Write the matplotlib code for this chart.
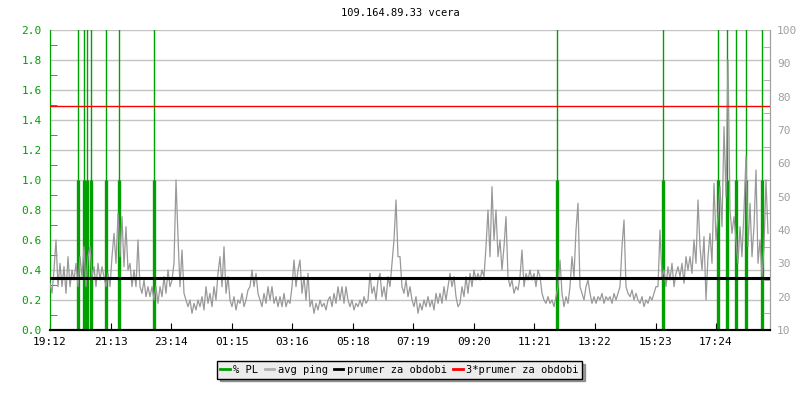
import matplotlib
matplotlib.use("Agg")

import matplotlib.pyplot as plt
from matplotlib.lines import Line2D

# ---------- DATA ----------
title = "109.164.89.33 vcera"
time_labels = ["19:12", "21:13", "23:14", "01:15", "03:16", "05:18",
               "07:19", "09:20", "11:21", "13:22", "15:23", "17:24"]
tick_step = 121.1   # minutes between time labels
sample_step = 4     # minutes between ping samples

# avg ping [ms], one sample every 4 min starting 19:12
avg_ping = [
    24, 21, 28, 37, 23, 30, 23, 29, 21, 32, 23, 28, 25, 30, 23,
    32, 26, 35, 23, 32, 35, 26, 29, 23, 30, 25, 29, 26, 23, 27,
    23, 32, 39, 30, 45, 32, 44, 29, 41, 28, 30, 23, 28, 23, 37,
    23, 21, 25, 20, 23, 20, 23, 19, 23, 18, 23, 20, 26, 21, 28,
    23, 25, 30, 55, 38, 23, 34, 21, 19, 17, 19, 15, 18, 16, 19,
    17, 20, 16, 23, 18, 21, 17, 23, 19, 27, 32, 23, 35, 21, 26,
    19, 17, 20, 16, 19, 18, 21, 17, 19, 22, 23, 28, 23, 27, 21,
    19, 17, 21, 18, 23, 19, 23, 18, 20, 17, 20, 17, 21, 17, 19,
    18, 23, 31, 23, 28, 31, 21, 26, 19, 27, 17, 19, 15, 18, 16,
    19, 17, 18, 16, 19, 20, 17, 21, 18, 23, 19, 23, 18, 23, 19,
    17, 19, 16, 18, 17, 19, 17, 20, 18, 19, 27, 21, 23, 19, 25,
    27, 20, 23, 19, 26, 23, 30, 37, 49, 32, 32, 23, 21, 25, 20,
    23, 19, 17, 20, 15, 18, 16, 19, 17, 20, 17, 19, 16, 21, 18,
    21, 18, 23, 19, 23, 27, 23, 26, 20, 17, 18, 23, 20, 26, 21,
    27, 23, 28, 25, 27, 25, 28, 26, 35, 46, 32, 53, 37, 46, 32,
    37, 28, 35, 44, 26, 23, 25, 21, 23, 22, 26, 34, 23, 27, 25,
    28, 25, 27, 23, 28, 26, 21, 19, 18, 20, 18, 19, 17, 20, 23,
    31, 21, 17, 20, 18, 23, 32, 26, 40, 48, 23, 21, 19, 23, 25,
    21, 18, 20, 18, 20, 19, 21, 18, 20, 19, 20, 18, 21, 19, 21,
    23, 35, 43, 23, 21, 20, 22, 19, 21, 19, 18, 20, 17, 19, 18,
    20, 19, 21, 23, 23, 40, 26, 28, 23, 29, 25, 30, 23, 27, 29,
    26, 30, 24, 32, 28, 32, 27, 37, 30, 49, 35, 28, 38, 19, 32,
    39, 30, 54, 37, 44, 53, 41, 71, 50, 91, 46, 39, 44, 37, 30,
    41, 32, 46, 62, 35, 48, 32, 41, 58, 30, 37, 26, 35, 55, 39,
]

# packet loss events: minutes after 19:12, PL value [%]
pl_times = [55, 67, 73, 81, 111, 138, 208, 1013, 1225, 1335, 1353, 1372, 1392, 1423]
pl_values = [1.0] * len(pl_times)
pl_peaks = [5.0] * len(pl_times)

ping_mean = 25.7

GREEN = "#00a000"
GRAY = "#999999"
AXGRAY = "#a0a0a0"

plt.rcParams["font.family"] = ["DejaVu Sans Mono"]
plt.rcParams["font.size"] = 7.5

# ---------- PLOT ----------
fig = plt.figure(figsize=(8, 4), dpi=100)
ax = fig.add_axes([0.0625, 0.175, 0.9, 0.75])
ax2 = ax.twinx()

ax.set_xlim(0, 1440)
ax.set_ylim(0, 2.0)
ax2.set_ylim(10, 100)

ax.set_yticks([i * 0.2 for i in range(11)])
ax.set_yticks([i * 0.1 for i in range(21)], minor=True)
ax.set_yticklabels(["%.1f" % (i * 0.2) for i in range(11)])
ax.grid(axis="y", color="#c4c4c4", lw=1)
ax.set_axisbelow(True)

ax.set_xticks([i * tick_step for i in range(len(time_labels))])
ax.set_xticklabels(time_labels, fontsize=8)

ax2.set_yticks(range(10, 101, 10))
ax2.set_yticks(range(10, 101, 5), minor=True)

# packet loss
ax.vlines(pl_times, 0, pl_peaks, color=GREEN, lw=1.0, zorder=2)
ax.vlines(pl_times, 0, pl_values, color=GREEN, lw=2.4, zorder=2)

# ping on right axis, drawn above green lines
ping_t = [i * sample_step for i in range(len(avg_ping))]
ax2.plot(ping_t, avg_ping, color=GRAY, lw=0.9, zorder=3)
ax2.axhline(ping_mean, color="black", lw=2.2, zorder=4)
ax2.axhline(3 * ping_mean, color="#ff0000", lw=1.0, zorder=5)

# axes styling
ax.spines["top"].set_visible(False)
ax2.spines["top"].set_visible(False)
ax.spines["left"].set_color(GREEN)
ax2.spines["left"].set_color(GREEN)
ax2.spines["right"].set_color(AXGRAY)
ax.spines["right"].set_color(AXGRAY)
ax.spines["bottom"].set_linewidth(1.5)
ax2.spines["bottom"].set_linewidth(1.5)

ax.tick_params(axis="y", which="both", direction="in", colors=GREEN, labelsize=8, pad=6)
ax.tick_params(axis="y", which="major", length=0)
ax.tick_params(axis="y", which="minor", length=5)
ax.tick_params(axis="x", direction="in", length=5, pad=5)
ax2.tick_params(axis="y", which="both", direction="in", colors=AXGRAY, labelsize=8, pad=5)
ax2.tick_params(axis="y", which="major", length=0)
ax2.tick_params(axis="y", which="minor", length=5)

ax.patch.set_visible(False)
ax2.patch.set_visible(False)

fig.text(0.5, 0.967, title, ha="center", va="center", fontsize=7.5)

handles = [
    Line2D([], [], color=GREEN, lw=2),
    Line2D([], [], color="#b0b0b0", lw=2),
    Line2D([], [], color="black", lw=2),
    Line2D([], [], color="#ff0000", lw=2),
]
labels = ["% PL", "avg ping", "prumer za obdobi", "3*prumer za obdobi"]
leg = fig.legend(handles, labels, loc="center", bbox_to_anchor=(0.4995, 0.075),
                 ncol=4, fancybox=False, shadow=True, frameon=True,
                 handlelength=0.9, handletextpad=0.35, columnspacing=0.6,
                 borderpad=0.35, fontsize=7.5)
leg.get_frame().set_facecolor("#ececec")
leg.get_frame().set_edgecolor("black")
leg.get_frame().set_alpha(1)

fig.savefig("out.png", dpi=100)
